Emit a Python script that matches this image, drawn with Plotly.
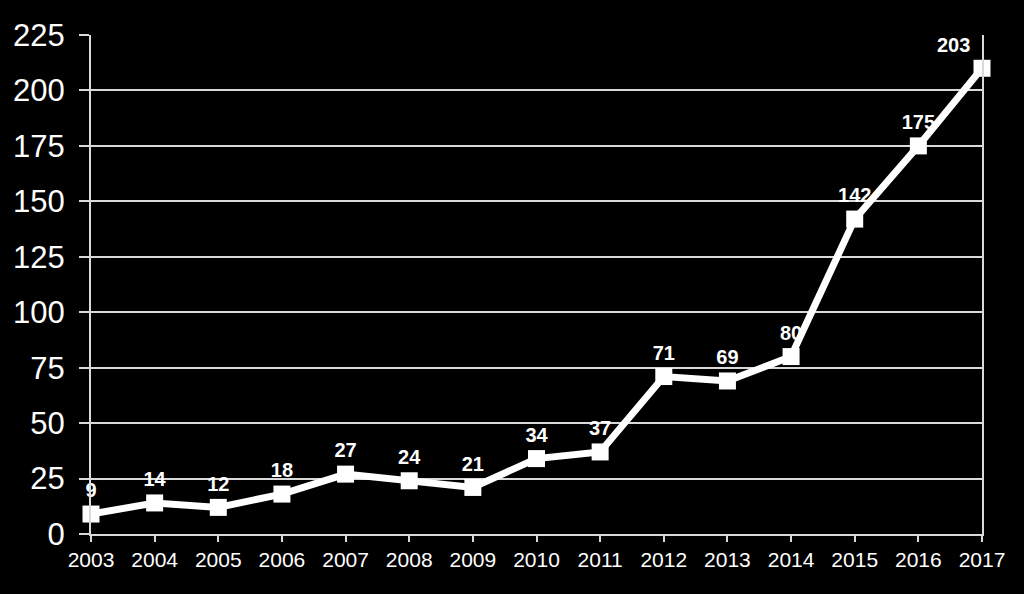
import plotly.graph_objects as go

years = list(range(2003, 2018))
values = [9, 14, 12, 18, 27, 24, 21, 34, 37, 71, 69, 80, 142, 175, 210]
labels = ["9", "14", "12", "18", "27", "24", "21", "34", "37", "71", "69", "80", "142", "175", "203"]
y_ticks = [0, 25, 50, 75, 100, 125, 150, 175, 200, 225]

positions = ["top center"] * (len(years) - 1) + ["top left"]

fig = go.Figure()
fig.add_trace(go.Scatter(
    x=years, y=values, mode="lines+markers+text",
    line=dict(color="white", width=7),
    marker=dict(symbol="square", size=17, color="white"),
    text=labels, textposition=positions,
    textfont=dict(family="Liberation Sans, Arial", size=20, color="white", weight="bold"),
    cliponaxis=False, showlegend=False,
))

fig.update_layout(
    width=1024, height=594,
    paper_bgcolor="black", plot_bgcolor="black",
    margin=dict(l=91, r=42, t=35, b=60),
    font=dict(family="Liberation Sans, Arial", color="white"),
    xaxis=dict(
        range=[2003, 2017], tickvals=years, ticktext=[str(y) for y in years],
        showgrid=False, zeroline=False,
        showline=True, linecolor="#d9d9d9", linewidth=2,
        ticks="outside", ticklen=6, tickwidth=2, tickcolor="#d9d9d9",
        tickfont=dict(size=21, color="white"),
    ),
    yaxis=dict(
        range=[0, 225], tickvals=y_ticks,
        showgrid=True, gridcolor="#d9d9d9", gridwidth=2,
        zeroline=False,
        showline=True, linecolor="#d9d9d9", linewidth=2, mirror=True,
        ticks="outside", ticklen=10, tickwidth=2, tickcolor="#d9d9d9",
        tickfont=dict(size=31, color="white"),
        ticklabelstandoff=8,
    ),
)

fig.write_html("out.html")
